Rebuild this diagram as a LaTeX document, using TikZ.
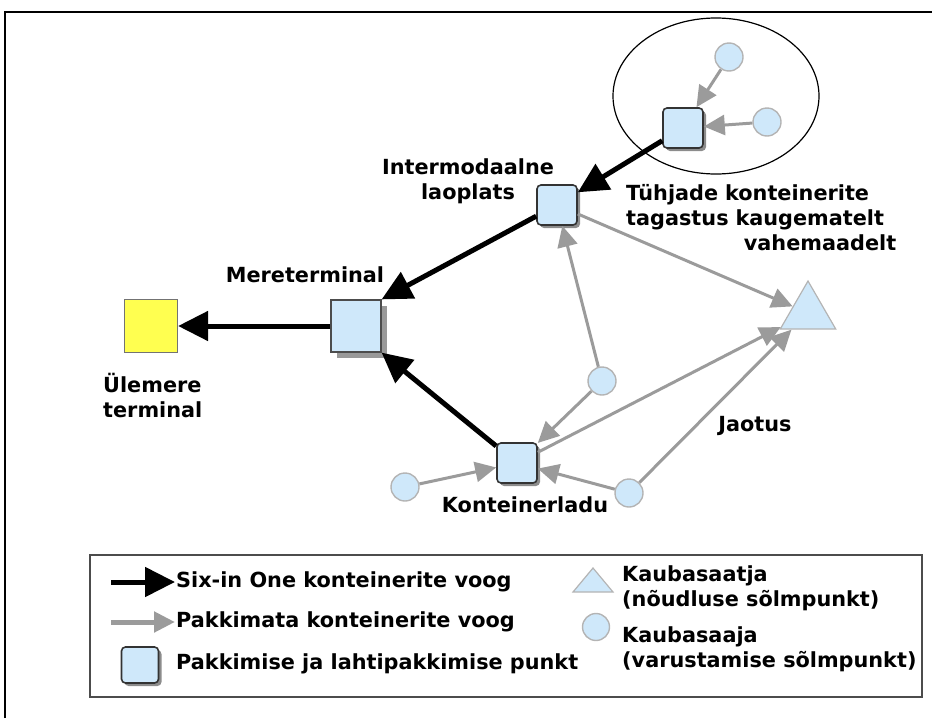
\documentclass[tikz,border=0pt]{standalone}
\usepackage{fontspec}
\setmainfont{DejaVu Sans}
\usetikzlibrary{arrows.meta,shadows,shapes.geometric}
\definecolor{hubblue}{HTML}{CFE8FA}
\definecolor{termyellow}{HTML}{FFFF50}
\definecolor{flowgray}{HTML}{9B9B9B}
\definecolor{rimgray}{HTML}{B4B4B4}

\begin{document}
\begin{tikzpicture}[x=1pt,y=-1pt,
  font=\fontsize{20.8}{25}\selectfont\bfseries,
  hub/.style={draw=black!80,line width=1.6pt,fill=hubblue,rounded corners=4pt,inner sep=0pt,minimum size=40pt,
    drop shadow={shadow xshift=3pt,shadow yshift=-3pt,fill=black!45,opacity=1}},
  port/.style={draw=black!70,line width=1.2pt,fill=hubblue,inner sep=0pt,minimum width=50pt,minimum height=52pt,
    drop shadow={shadow xshift=6pt,shadow yshift=-6pt,fill=black!40,opacity=1}},
  oversea/.style={draw=black!55,line width=1.2pt,fill=termyellow,inner sep=0pt,minimum size=53pt},
  client/.style={circle,draw=rimgray,line width=1.4pt,fill=hubblue,inner sep=0pt,minimum size=28pt},
  shipper/.style={regular polygon,regular polygon sides=3,draw=rimgray,line width=1.2pt,fill=hubblue,inner sep=0pt,minimum size=64pt},
  sixflow/.style={line width=5pt,-{Triangle[length=30pt,width=29pt]}},
  looseflow/.style={flowgray,line width=3pt,-{Triangle[length=21pt,width=20pt]}},
  tag/.style={align=left,anchor=west,inner sep=0pt}]
\useasboundingbox (0,0) rectangle (932,718);
\draw[line width=2pt] (5,718) -- (5,12) -- (932,12);

\node[ellipse,draw,line width=1.2pt,minimum width=206pt,minimum height=156pt] (zone) at (716,96) {};
\node[oversea] (overseas) at (151,326) {};
\node[port] (quay) at (356,326) {};
\node[hub] (yard) at (557,205) {};
\node[hub] (depot) at (683,128) {};
\node[hub] (store) at (517,463) {};
\node[shipper] (sender) at (808,313) {};
\node[client] (ca) at (729,57) {};
\node[client] (cb) at (767,122) {};
\node[client] (cc) at (602,381) {};
\node[client] (cd) at (405,487) {};
\node[client] (ce) at (629,493) {};

\draw[sixflow] (quay) -- (overseas);
\draw[sixflow] (yard) -- (quay.north east);
\draw[sixflow] (store) -- (quay.south east);
\draw[sixflow] (depot) -- (yard);
\draw[looseflow] (ca) -- (depot);
\draw[looseflow] (cb) -- (depot);
\draw[looseflow] (yard) -- (sender);
\draw[looseflow] (cc) -- (yard);
\draw[looseflow] (cc) -- (store);
\draw[looseflow] (cd) -- (store);
\draw[looseflow] (ce) -- (store);
\draw[looseflow] (store) -- (sender);
\draw[looseflow] (ce) -- (sender);

\node (quaylab) at (305,275) {Mereterminal};
\node[tag] (overlab) at (103,395) {Ülemere\\terminal};
\node[align=center] (yardlab) at (468,181) {Intermodaalne\\laoplats};
\node[tag,text width=270pt] (returnlab) at (626,218) {Tühjade konteinerite\\tagastus kaugematelt\\\hspace*{\fill}vahemaadelt};
\node (storelab) at (525,505) {Konteinerladu};
\node (splitlab) at (755,426) {Jaotus};

\node[draw=black!70,line width=1.2pt,minimum width=832pt,minimum height=142pt,inner sep=0pt] (legend) at (506,626) {};
\coordinate (sixa) at (111,582);
\coordinate (sixb) at (175,582);
\draw[sixflow] (sixa) -- (sixb);
\node[tag] (sixlab) at (176,582) {Six-in One konteinerite voog};
\coordinate (loosea) at (111,622);
\coordinate (looseb) at (175,622);
\draw[looseflow,line width=5pt] (loosea) -- (looseb);
\node[tag] (looselab) at (176,622) {Pakkimata konteinerite voog};
\node[hub,minimum width=37pt,minimum height=36pt] (hubkey) at (140,665) {};
\node[tag] (hubkeylab) at (176,664) {Pakkimise ja lahtipakkimise punkt};
\draw[rimgray,line width=1.2pt,fill=hubblue] (573,592) -- (593,568) -- (613,592) -- cycle;
\node[client,minimum size=27pt] (clientkey) at (596,627) {};
\node[tag] (senderlab) at (622,588) {Kaubasaatja\\(nõudluse sõlmpunkt)};
\node[tag] (clientlab) at (622,649) {Kaubasaaja\\(varustamise sõlmpunkt)};
\end{tikzpicture}
\end{document}
